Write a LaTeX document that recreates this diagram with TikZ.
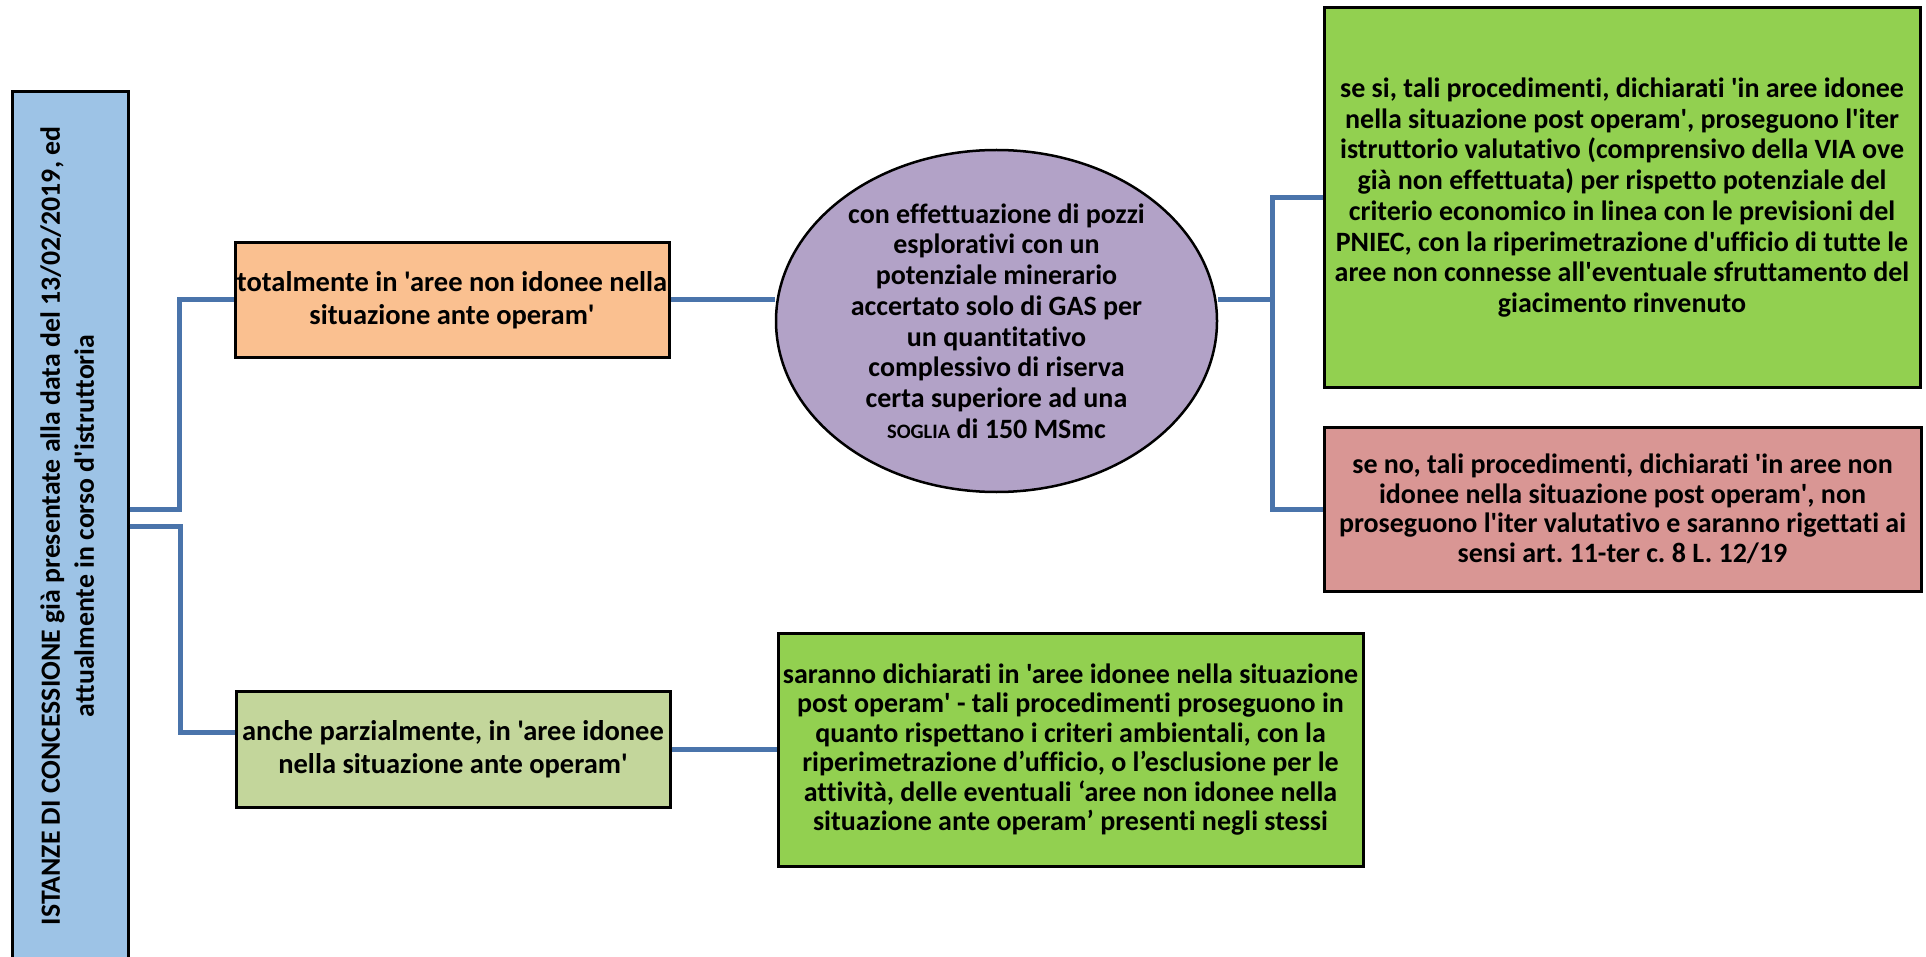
\documentclass[tikz,border=0pt]{standalone}
\usepackage{fontspec}
\setmainfont{Carlito}[Ligatures={TeXOff,NoCommon}]
\usepackage{tikz}
\usetikzlibrary{shapes,calc}
\frenchspacing

\definecolor{istanzeBlue}{HTML}{9DC3E6}
\definecolor{anteOrange}{HTML}{FAC090}
\definecolor{anteGreen}{HTML}{C3D69B}
\definecolor{gasLilac}{HTML}{B2A2C7}
\definecolor{postGreen}{HTML}{92D050}
\definecolor{postRed}{HTML}{D99694}
\definecolor{branchBlue}{HTML}{4A74AB}

\begin{document}
\begin{tikzpicture}[x=1pt, y=-1pt]
    \tikzstyle{box} = [
      draw=black,
      line width=3pt,
      anchor=center,
      align=center,
      inner sep=0pt,
    ]
    \tikzstyle{branch} = [
      line width=5pt,
      draw=branchBlue,
    ]
    \tikzstyle{bigtext} = [
      font=\fontsize{28.5}{33}\selectfont\bfseries,
    ]
    \tikzstyle{midtext} = [
      font=\fontsize{28}{30.7}\selectfont\bfseries,
    ]
    \tikzstyle{smalltext} = [
      font=\fontsize{28}{29.5}\selectfont\bfseries,
    ]

    \newcommand{\soglia}[0]{{\fontsize{20.5}{30}\selectfont SOGLIA}}

    \useasboundingbox (0,0) rectangle (1926,957);
    \clip (0,0) rectangle (1926,957);

    % istanze
    {
      \node[box, fill=istanzeBlue, minimum width=116pt, minimum height=868pt,
        font=\fontsize{27.8}{34}\selectfont\bfseries] (istanze) at (70,526)
        {\rotatebox{90}{\begin{tabular}{@{}c@{}}ISTANZE DI CONCESSIONE già presentate alla data del 13/02/2019, ed\\attualmente in corso d'istruttoria\end{tabular}}};
    }

    % ante operam
    {
      \node[box, bigtext, fill=anteOrange, minimum width=434pt, minimum height=115pt] (totalBox) at (452,300)
        {totalmente in 'aree non idonee nella\\situazione ante operam'};
      \node[box, bigtext, fill=anteGreen, minimum width=434pt, minimum height=116pt] (parzBox) at (453,749)
        {anche parzialmente, in 'aree idonee\\nella situazione ante operam'};
    }

    % gas
    {
      \node[box, ellipse, midtext, fill=gasLilac, line width=2.5pt, minimum width=441pt, minimum height=342pt] (gas) at (996.5,321)
        {con effettuazione di pozzi\\esplorativi con un\\potenziale minerario\\accertato solo di GAS per\\un quantitativo\\complessivo di riserva\\certa superiore ad una\\\soglia{} di 150 MSmc};
    }

    % post operam
    {
      \node[box, midtext, fill=postGreen, minimum width=596pt, minimum height=379pt] (siBox) at (1622,197.5)
        {se si, tali procedimenti, dichiarati 'in aree idonee\\nella situazione post operam', proseguono l'iter\\istruttorio valutativo (comprensivo della VIA ove\\già non effettuata) per rispetto potenziale del\\criterio economico in linea con le previsioni del\\PNIEC, con la riperimetrazione d'ufficio di tutte le\\aree non connesse all'eventuale sfruttamento del\\giacimento rinvenuto};
      \node[box, smalltext, fill=postRed, minimum width=597pt, minimum height=164pt] (noBox) at (1622.5,509)
        {se no, tali procedimenti, dichiarati 'in aree non\\idonee nella situazione post operam', non\\proseguono l'iter valutativo e saranno rigettati ai\\sensi art. 11-ter c. 8 L. 12/19};
      \node[box, smalltext, fill=postGreen, minimum width=585pt, minimum height=233pt] (dichBox) at (1070.5,749.5)
        {saranno dichiarati in 'aree idonee nella situazione\\post operam' - tali procedimenti proseguono in\\quanto rispettano i criteri ambientali, con la\\riperimetrazione d’ufficio, o l’esclusione per le\\attività, delle eventuali ‘aree non idonee nella\\situazione ante operam’ presenti negli stessi};
    }

    % branches
    {
      \draw[branch] ([yshift=17pt]istanze.east) -| ([xshift=-54pt]totalBox.west) -- (totalBox.west);
      \draw[branch] (istanze.east) -| ([xshift=-54pt, yshift=17pt]parzBox.west) -- ([yshift=17pt]parzBox.west);
      \draw[branch] (totalBox.east) -- (totalBox.east -| gas.west);
      \draw[branch] (parzBox.east) -- (parzBox.east -| dichBox.west);
      \coordinate (fork) at ([xshift=54pt]gas.east |- totalBox.east);
      \draw[branch] (gas.east |- fork) -- (fork);
      \draw[branch] (fork) |- (siBox.west);
      \draw[branch] (fork) |- (noBox.west);
    }
\end{tikzpicture}
\end{document}
